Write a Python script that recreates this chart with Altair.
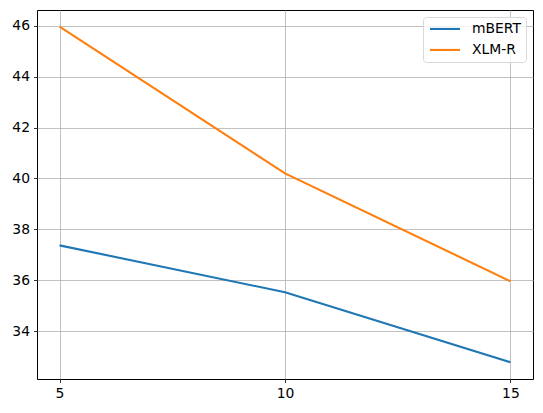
import altair as alt
import pandas as pd

x_vals = [5, 10, 15]
mbert = [37.37, 35.53, 32.78]
xlmr = [45.97, 40.20, 35.96]
series_names = ["mBERT", "XLM-R"]
colors = ["#1f77b4", "#ff7f0e"]

rows = []
for name, vals in zip(series_names, [mbert, xlmr]):
    for x, v in zip(x_vals, vals):
        rows.append({"x": x, "value": v, "series": name})
df = pd.DataFrame(rows)

font = "DejaVu Sans"

chart = alt.Chart(df).mark_line(strokeWidth=2.1, clip=True).encode(
    x=alt.X("x:Q", scale=alt.Scale(domain=[4.5, 15.5], nice=False, zero=False),
            axis=alt.Axis(values=x_vals, title=None, format="d")),
    y=alt.Y("value:Q", scale=alt.Scale(domain=[32.12, 46.62], nice=False, zero=False),
            axis=alt.Axis(values=[34, 36, 38, 40, 42, 44, 46], title=None, format="d")),
    color=alt.Color("series:N", scale=alt.Scale(domain=series_names, range=colors),
                    legend=alt.Legend(title=None, orient="top-right", offset=7,
                                      symbolType="M-1,0H5", symbolSize=100,
                                      symbolStrokeWidth=2.1, labelOffset=30,
                                      padding=5, rowPadding=6,
                                      fillColor="rgba(255,255,255,0.8)",
                                      strokeColor="#d9d9d9", cornerRadius=3,
                                      labelFontSize=13.9, labelFont=font,
                                      labelColor="#000000")),
).properties(
    width=496, height=369,
    autosize=alt.AutoSizeParams(type="none"),
    padding={"left": 29, "top": 2, "right": 2, "bottom": 30},
).configure_view(
    stroke="#000000", strokeWidth=1,
).configure_axis(
    grid=True, gridColor="#b0b0b0", gridWidth=0.8,
    domain=False, tickColor="#000000", tickSize=3.5, tickWidth=0.8,
    labelFont=font, labelFontSize=13.9, labelColor="#000000", labelPadding=4,
)

chart.save("out.html", embed_options={"renderer": "svg", "actions": False})
